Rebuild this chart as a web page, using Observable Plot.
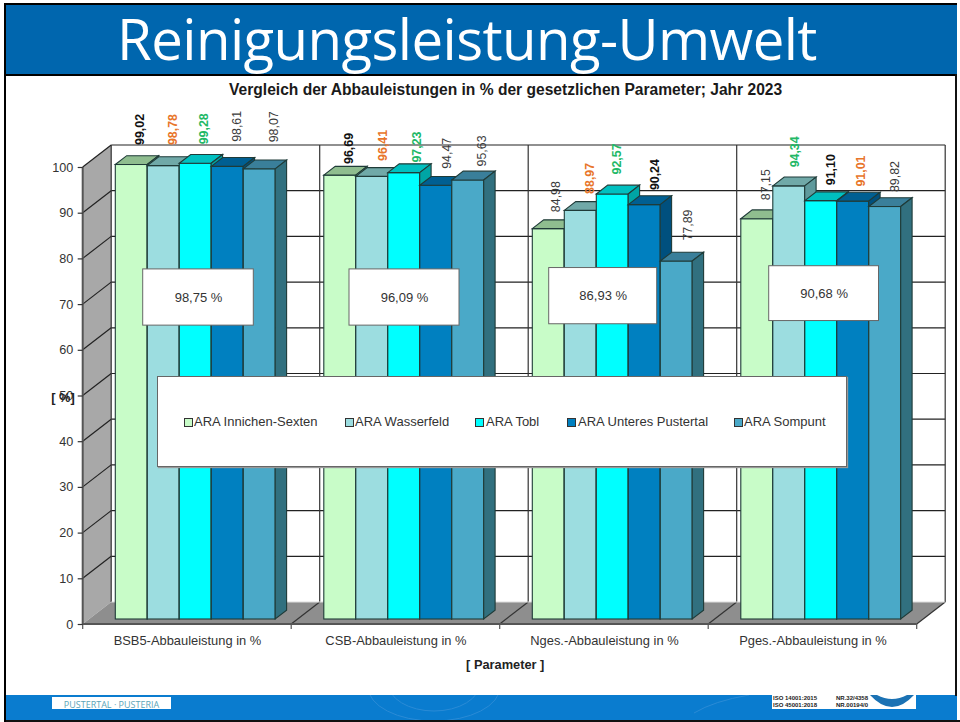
<!DOCTYPE html>
<html><head><meta charset="utf-8">
<script src="https://cdn.jsdelivr.net/npm/d3@7"></script>
<script src="https://cdn.jsdelivr.net/npm/@observablehq/plot@0.6"></script>
<style>
html,body{margin:0;padding:0;background:#fff}
#page{position:relative;width:960px;height:722px;overflow:hidden;font-family:"Liberation Sans",Arial,sans-serif;background:#fff}
#chart{position:absolute;left:0;top:0}
#chart svg{display:block}
.abs{position:absolute;white-space:nowrap}
#banner{left:4px;top:3px;width:953px;height:69px;background:#0066ae;border-top:2px solid #000;border-bottom:2px solid #000;box-sizing:content-box}
#banner span{position:absolute;left:113px;top:0;height:69px;font-family:"Open Sans";font-size:56.4px;color:#fff;line-height:68px;letter-spacing:-.6px}
#edgeL{left:4px;top:3px;width:2px;height:719px;background:#000}
#edgeR{left:955px;top:74px;width:2px;height:622px;background:#111}
#title{left:229px;top:81px;font-weight:bold;font-size:15.6px;color:#1a1a1a;line-height:18px}
#legend{left:157px;top:376px;width:690px;height:91px;background:#fff;border:1px solid #666;box-sizing:border-box;box-shadow:1px 1px 1px #999}
.sw{position:absolute;top:40.5px;width:7px;height:7px;border:1px solid #333}
.lt{position:absolute;top:37px;font-size:13px;line-height:15px;color:#333;white-space:nowrap}
#footer{left:4px;top:695px;width:953px;height:25px;background:#0a7ccf}
#footer svg{position:absolute;left:0;top:0}
#bottom{left:4px;top:720px;width:956px;height:2px;background:#111}
#logoL{left:52px;top:697px;width:119px;height:12px;background:#fff;color:#5ba5b8;font-size:9px;line-height:16px;text-align:center;font-family:"Open Sans"}
#logoR{left:772px;top:695px;width:144px;height:14px;background:#fff;color:#222;font-size:6px;line-height:7px;font-weight:bold}
#logoR div{position:absolute;white-space:nowrap}
#logoR svg{position:absolute;left:96px;top:0}
</style></head><body>
<div id="page">
  <div id="chart"></div>
  <div class="abs" id="footer"><svg width="953" height="25"><g fill="none" stroke="#2a8bd6" stroke-width="1"><ellipse cx="430" cy="-8" rx="66" ry="34"/><ellipse cx="430" cy="-12" rx="46" ry="28"/><path d="M690 18 Q 710 6 745 0"/></g></svg></div>
  <div class="abs" id="logoL">PUSTERTAL · PUSTERIA</div>
  <div class="abs" id="logoR"><div style="left:1px;top:0">ISO 14001:2015<br>ISO 45001:2018</div><div style="left:64px;top:0">NR.32/4358<br>NR.00194/0</div>
    <svg width="48" height="14"><path d="M2 0 Q 24 24 46 0 L 39 0 Q 24 8 9 0 Z" fill="#1b72b4"/></svg></div>
  <div class="abs" id="bottom"></div>
  <div class="abs" id="banner"><span>Reinigungsleistung-Umwelt</span></div>
  <div class="abs" id="edgeL"></div>
  <div class="abs" id="edgeR"></div>
  <div class="abs" id="title">Vergleich der Abbauleistungen in % der gesetzlichen Parameter; Jahr 2023</div>
  <div class="abs" id="legend"></div>
</div>
<script>
const params = ["BSB5-Abbauleistung in %","CSB-Abbauleistung in %","Nges.-Abbauleistung in %","Pges.-Abbauleistung in %"];
const seriesNames = ["ARA Innichen-Sexten","ARA Wasserfeld","ARA Tobl","ARA Unteres Pustertal","ARA Sompunt"];
const innichen = [99.02,96.69,84.98,87.15];
const wasserfeld = [98.78,96.41,88.97,94.34];
const tobl = [99.28,97.23,92.57,91.10];
const unteres = [98.61,94.47,90.24,91.01];
const sompunt = [98.07,95.63,77.89,89.82];
const seriesValues = [innichen,wasserfeld,tobl,unteres,sompunt];
const means = [98.75,96.09,86.93,90.68];
const yTicks = [0,10,20,30,40,50,60,70,80,90,100];

const frontColors = ["#c8fcc8","#9cdde0","#00ffff","#0080c0","#4aa9c8"];
const topColors   = ["#8fbd8f","#70a9a8","#00c0c0","#005f92","#3a7f9a"];
const sideColors  = ["#78a078","#5f9a9c","#00a5a5","#00507e","#31707f"];
const rankColors  = ["#22b866","#111111","#e8752a"];

const rows = params.flatMap((param,g)=>{
  const ordered = seriesValues.map(s=>s[g]).sort((a,b)=>b-a);
  return seriesNames.map((series,i)=>({param,series,value:seriesValues[i][g],rank:ordered.indexOf(seriesValues[i][g]),si:i,gi:g}));
});
const fmt = v => v.toFixed(2).replace(".",",");

// layout constants (pixels)
const W=960,H=722,ML=82.7,MR=43.3,MT=167,MB=98;
const DX=28.5,DY=-22;      // wall depth
const BX=11.4,BY=-8.8;     // bar depth
const BW=32, GL=32.6, GR=16, SHIFT=-7;

function walls(index,{x,y}){
  const g=d3.create("svg:g");
  const y0=y(0),y1=y(100),x0=x(params[0]),bw=x.bandwidth(),xEnd=x0+bw*params.length;
  const poly=(pts,fill,stroke)=>g.append("polygon").attr("points",pts.map(p=>p.join(",")).join(" ")).attr("fill",fill).attr("stroke",stroke||"none");
  const line=(a,b,c,w)=>g.append("line").attr("x1",a[0]).attr("y1",a[1]).attr("x2",b[0]).attr("y2",b[1]).attr("stroke",c).attr("stroke-width",w);
  poly([[x0,y0],[x0+DX,y0+DY],[x0+DX,y1+DY],[x0,y1]],"#a8a8a8");
  poly([[x0,y0],[xEnd,y0],[xEnd+DX,y0+DY],[x0+DX,y0+DY]],"#8e8e8e");
  for(const t of yTicks){
    const v=y(t);
    if(t>0){
      line([x0,v],[x0+DX,v+DY],"#222",1.2);
      line([x0+DX,v+DY],[xEnd+DX,v+DY],"#222",1.2);
    }
  }
  for(let i=0;i<=params.length;i++){
    const xx=x0+bw*i;
    line([xx+DX,y1+DY],[xx+DX,y0+DY],"#333",1.2);
    if(i>0) line([xx,y0],[xx+DX,y0+DY],"#333",1.2);
    line([xx,y0],[xx,y0+5],"#555",1.2);
  }
  line([x0,y0],[x0,y1],"#555",2);
  line([x0,y0],[xEnd,y0],"#555",2);
  line([x0+DX,y0+DY],[xEnd+DX,y0+DY],"#ddd",1);
  return g.node();
}

function faces(i){
  return function(index,scales,values,dims,context,next){
    const g=next(index,scales,values,dims,context);
    const sel=d3.select(g);
    sel.selectAll("rect").each(function(){
      const r=d3.select(this),x=+r.attr("x"),y=+r.attr("y"),w=+r.attr("width"),h=+r.attr("height");
      const pts=a=>a.map(p=>p.join(",")).join(" ");
      sel.append("polygon").attr("fill",topColors[i]).attr("points",pts([[x,y],[x+BX,y+BY],[x+w+BX,y+BY],[x+w,y]]));
      sel.append("polygon").attr("fill",sideColors[i]).attr("points",pts([[x+w,y],[x+w+BX,y+BY],[x+w+BX,y+h+BY],[x+w,y+h]]));
    });
    return g;
  };
}

// label offsets in pixels, one row per parameter, one column per series
const labelDx=[[8,9,8,9.4,14.7],[8.9,11.2,12.9,10.9,13.9],[7.7,9.7,4.4,10.7,11.7],[8.9,6.2,10.2,7.9,10.2]];
const labelGap=[[20,21,19.5,25,27],[11.7,16,10.6,17,14],[17,17,20,15,21],[19,19,16,15,15]];

const barMarks = seriesNames.map((name,i)=>Plot.barY(rows.filter(d=>d.si===i),{
  x:"param",y1:0,y2:"value",fill:frontColors[i],stroke:"#1f3b38",strokeWidth:1.1,
  insetLeft:GL+i*BW,insetRight:GR+(seriesNames.length-1-i)*BW,insetBottom:-2,dy:SHIFT,
  render:faces(i)
}));

const labelMarks = rows.map(d=>Plot.text([d],{
  x:"param",y:"value",text:r=>fmt(r.value),rotate:-90,textAnchor:"start",
  fontSize:12.4,fontWeight:d.rank<3?"bold":"normal",fill:d.rank<3?rankColors[d.rank]:"#3a3a3a",
  dx:-104.25+GL+BW*d.si+BW/2+labelDx[d.gi][d.si],dy:SHIFT-labelGap[d.gi][d.si]
}));

// mean boxes: insets in pixels, y-limits in axis units
const boxL=[60,57.8,49,60.5], boxR=[37.9,40.7,51.5,38.2], boxLo=[65.4,65.4,65.7,66.4], boxHi=[77.7,77.7,78,78.4];
const boxMarks = params.flatMap((param,i)=>[
  Plot.barY([{param}],{x:"param",y1:boxLo[i],y2:boxHi[i],fill:"#fff",stroke:"#666",strokeWidth:1,insetLeft:boxL[i],insetRight:boxR[i]}),
  Plot.text([{param,v:means[i]}],{x:"param",y:(boxLo[i]+boxHi[i])/2,text:d=>fmt(d.v)+" %",fontSize:13,fill:"#333",dx:(boxL[i]-boxR[i])/2})
]);

const plot = Plot.plot({
  width:W,height:H,marginLeft:ML,marginRight:MR,marginTop:MT,marginBottom:MB,
  style:{background:"transparent",fontFamily:"'Liberation Sans',Arial,sans-serif"},
  x:{type:"band",domain:params,padding:0,round:false,axis:null},
  y:{domain:[0,100],axis:null},
  marks:[
    walls,
    ...barMarks,
    ...labelMarks,
    ...boxMarks,
    Plot.axisY({ticks:yTicks,tickSize:5,tickPadding:5,fontSize:12.6,color:"#333",label:null,strokeWidth:1.2}),
    Plot.axisX({domain:params,tickSize:0,tickPadding:11.5,fontSize:12.9,color:"#333",label:null}),
    Plot.text(["[ %]"],{frameAnchor:"left",text:d=>d,dx:-32,y:50,fontWeight:"bold",fontSize:12.8,fill:"#222",dy:2}),
    Plot.text(["[ Parameter ]"],{frameAnchor:"bottom",text:d=>d,dx:5,dy:44,fontWeight:"bold",fontSize:12.8,fill:"#222"})
  ]
});
document.getElementById("chart").appendChild(plot);

const legendPos=[[26,36],[187,197],[317,328],[409,420],[576,586]];
const legend=d3.select("#legend");
seriesNames.forEach((n,i)=>{
  legend.append("div").attr("class","sw").style("left",legendPos[i][0]+"px").style("background",frontColors[i]);
  legend.append("div").attr("class","lt").style("left",legendPos[i][1]+"px").text(n);
});
</script>
</body></html>
